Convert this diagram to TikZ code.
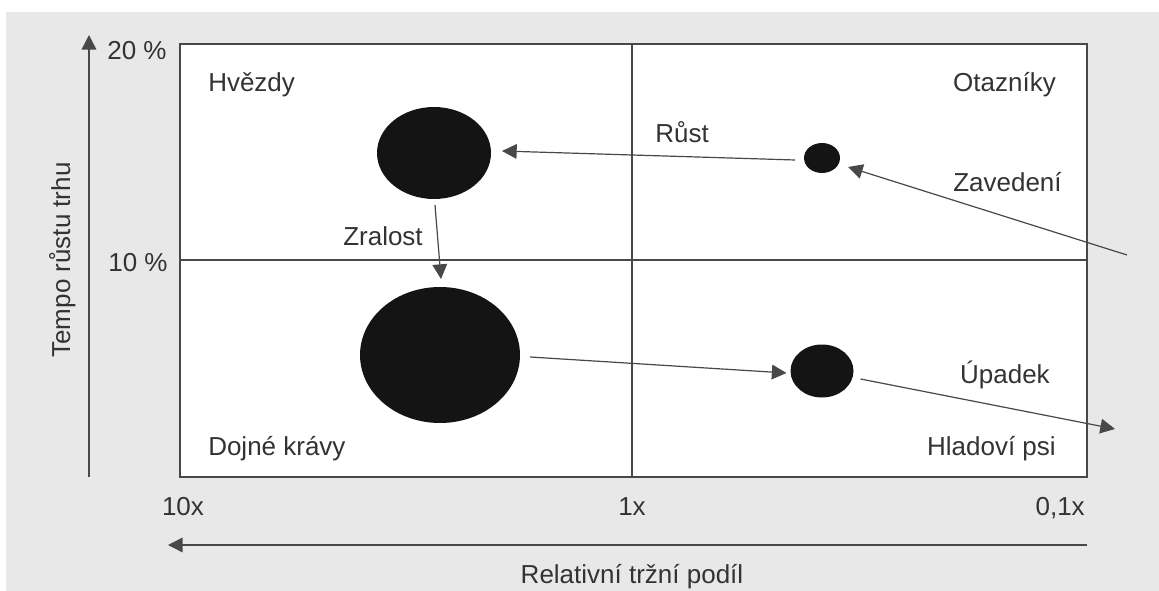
\documentclass[tikz,border=0pt]{standalone}
\usepackage{fontspec}
\setmainfont{Liberation Sans}
\usetikzlibrary{arrows.meta,calc,shapes.geometric}
\definecolor{bg}{HTML}{E8E8E8}
\definecolor{ink}{HTML}{333333}
\definecolor{rule}{HTML}{484848}
\begin{document}
\begin{tikzpicture}[x=0.75pt,y=-0.75pt,
  lbl/.style={font=\fontsize{19.5}{23}\selectfont, text=ink, inner sep=0pt},
  blob/.style={ellipse, fill=black!92, draw=none, inner sep=0pt, outer sep=0pt},
  tip/.style={-{Triangle[length=11pt,width=11pt]}},
  conn/.style={draw=rule, line width=0.9pt, tip},
  axis/.style={draw=rule, line width=1.1pt, tip},
  grid/.style={draw=rule, line width=1.1pt},
]
\useasboundingbox (0,0) rectangle (1159,591);
\fill[white] (0,0) rectangle (1159,591);
\fill[bg] (6,12) rectangle (1159,591);
% plot area
\filldraw[fill=white, grid] (180,44) rectangle (1087,477);
\draw[grid] (632,44) -- (632,477);
\draw[grid] (180,260) -- (1087,260);
% axes
\coordinate (yb) at (89,477);
\coordinate (yt) at (89,35);
\draw[axis] (yb) -- (yt);
\coordinate (xr) at (1087,545);
\coordinate (xl) at (168,545);
\draw[axis] (xr) -- (xl);
% axis labels
\node[lbl, anchor=base] (p20) at (137,60) {20 \%};
\node[lbl, anchor=base] (p10) at (138,272) {10 \%};
\node[lbl, anchor=base, rotate=90] (ylab) at (70,260) {Tempo růstu trhu};
\node[lbl, anchor=base] (x10) at (183,515) {10x};
\node[lbl, anchor=base] (x1) at (632,515) {1x};
\node[lbl, anchor=base east] (x01) at (1085,515) {0,1x};
\node[lbl, anchor=base] (xlab) at (632,583) {Relativní tržní podíl};
% quadrant labels
\node[lbl, anchor=base west] (hv) at (208,92) {Hvězdy};
\node[lbl, anchor=base east] (ot) at (1056,92) {Otazníky};
\node[lbl, anchor=base west] (dk) at (208,455) {Dojné krávy};
\node[lbl, anchor=base east] (hp) at (1056,455) {Hladoví psi};
% blobs
\node[blob, minimum width=85.5pt, minimum height=69pt] (star) at (434,153) {};
\node[blob, minimum width=27pt, minimum height=22.5pt] (qm) at (822,158) {};
\node[blob, minimum width=120pt, minimum height=102pt] (cow) at (440,355) {};
\node[blob, minimum width=47.25pt, minimum height=39.75pt] (dog) at (822,371) {};
% connectors
\coordinate (zs) at (1127,255);
\coordinate (ue) at (1115,429);
\draw[conn] ($(qm.west)+(-9,2)$) -- ($(star.east)+(11,-2)$);
\draw[conn] (zs) -- ($(qm.east)+(8,9)$);
\draw[conn] ($(star.south)+(1,6)$) -- ($(cow.north)+(1,-8)$);
\draw[conn] ($(cow.east)+(10,2)$) -- ($(dog.west)+(-4,2)$);
\draw[conn] ($(dog.east)+(7,8)$) -- (ue);
% connector labels
\node[lbl, anchor=base west] (lr) at (655,143) {Růst};
\node[lbl, anchor=base west] (lz) at (953,192) {Zavedení};
\node[lbl, anchor=base west] (lzr) at (343,246) {Zralost};
\node[lbl, anchor=base east] (lu) at (1050,383) {Úpadek};
\end{tikzpicture}
\end{document}
